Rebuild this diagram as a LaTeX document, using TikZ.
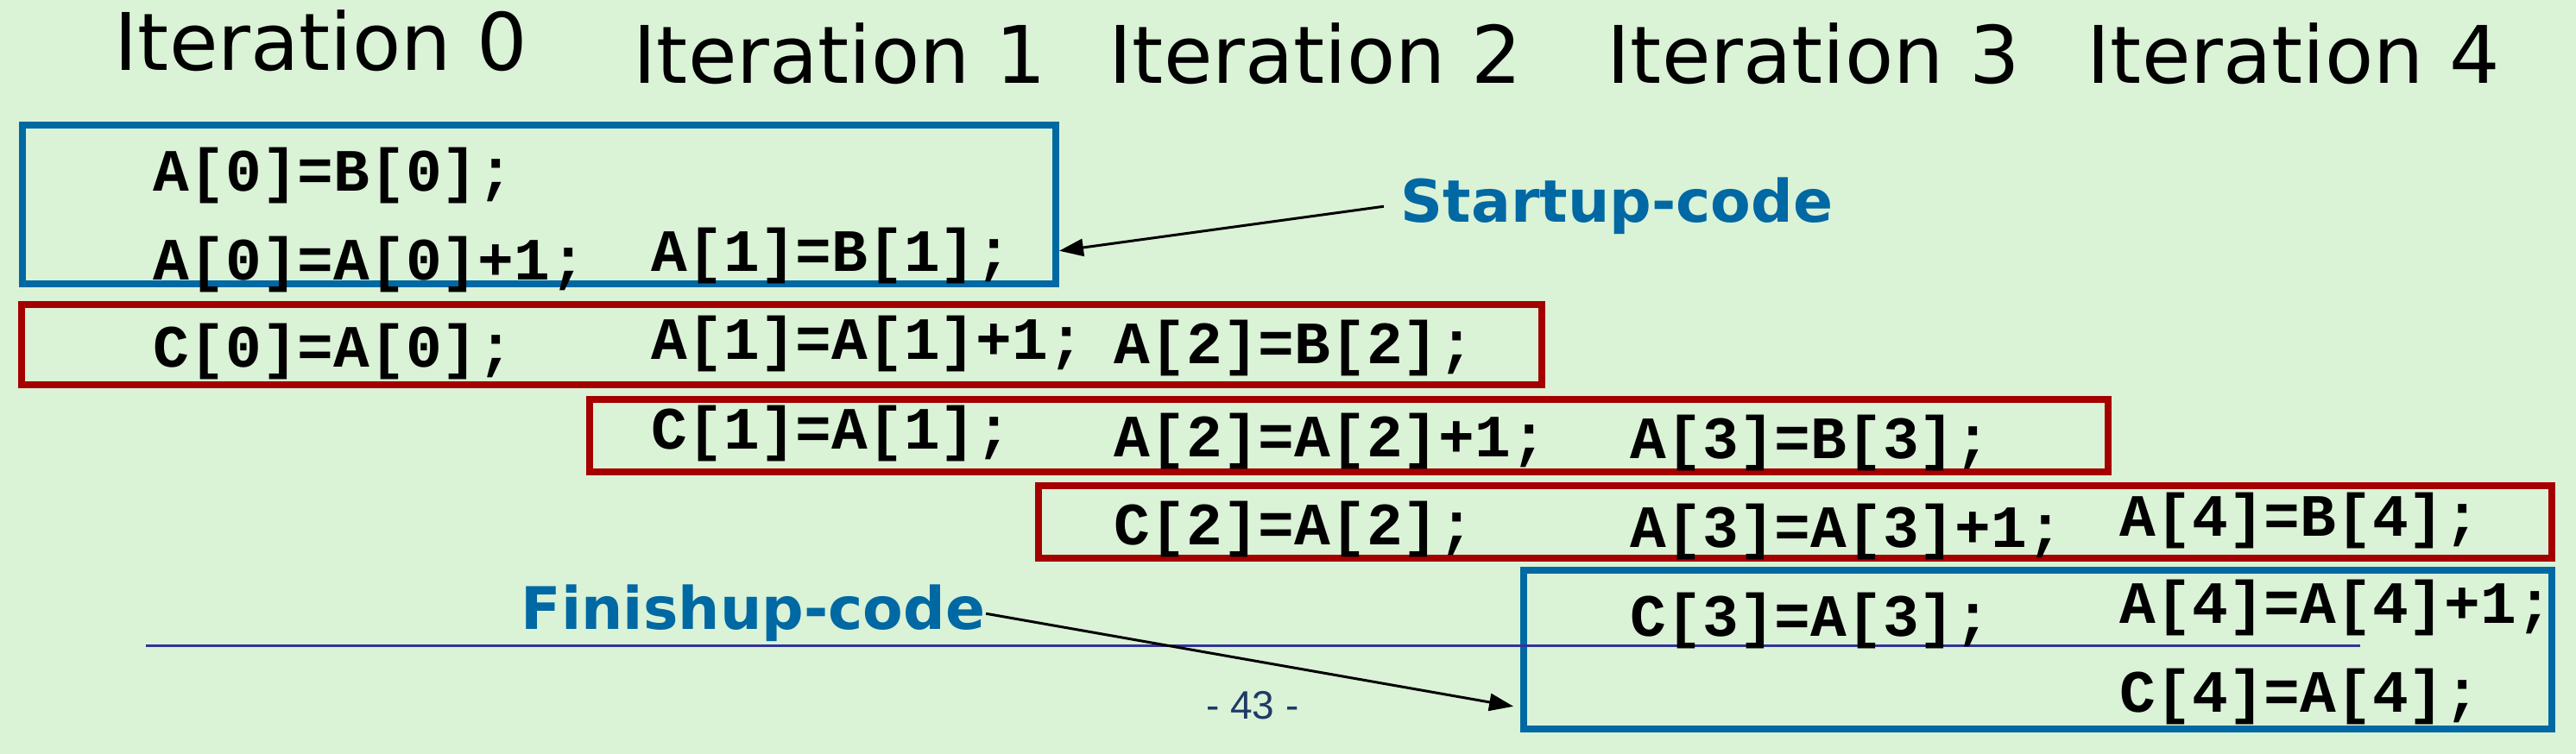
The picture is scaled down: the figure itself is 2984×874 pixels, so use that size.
\documentclass[tikz,border=0pt]{standalone}
\usepackage{fontspec}
\usetikzlibrary{arrows.meta,calc}
\setmainfont{DejaVu Sans}
\newfontfamily\titlefont{DejaVu Sans}
\newfontfamily\codefont{Liberation Mono}
\newfontfamily\lblfont{DejaVu Sans}
\newfontfamily\pgfont{Liberation Sans}
\definecolor{bggreen}{RGB}{218,242,214}
\definecolor{boxblue}{RGB}{0,104,163}
\definecolor{boxred}{RGB}{165,0,0}
\definecolor{footline}{RGB}{51,51,153}
\definecolor{pgnavy}{RGB}{31,58,102}
\tikzset{
  itertitle/.style={anchor=base west, inner sep=0pt, font=\titlefont\fontsize{23}{23}\selectfont, text=black},
  codeline/.style={anchor=base west, inner sep=0pt, font=\codefont\bfseries\fontsize{17.4}{17.4}\selectfont, text=black},
  bluebox/.style={draw=boxblue, line width=2pt, inner sep=0pt},
  redbox/.style={draw=boxred, line width=2pt, inner sep=0pt},
  calllabel/.style={anchor=base west, inner sep=0pt, font=\lblfont\bfseries\fontsize{17}{17}\selectfont, text=boxblue},
  pointer/.style={draw=black, line width=0.75pt, -{Triangle[length=7pt,width=5pt]}},
}
\begin{document}
\begin{tikzpicture}[x=0.25pt,y=-0.25pt]
\fill[bggreen] (0,0) rectangle (2984,874);
\useasboundingbox (0,0) rectangle (2984,874);

% boxes
\node[bluebox, minimum width=1197*0.25pt, minimum height=184*0.25pt] (blue1) at (624.5,237) {};
\node[redbox, minimum width=1761*0.25pt, minimum height=93*0.25pt] (red1) at (905.5,399.5) {};
\node[redbox, minimum width=1759*0.25pt, minimum height=84*0.25pt] (red2) at (1562.5,505) {};
\node[redbox, minimum width=1753*0.25pt, minimum height=84*0.25pt] (red3) at (2079.5,605) {};
\node[bluebox, minimum width=1191*0.25pt, minimum height=184*0.25pt] (blue2) at (2360.5,753) {};

% footer line
\coordinate (fl0) at (169,749);
\coordinate (fl1) at (2734,749);
\draw[footline, line width=0.75pt] (fl0) -- (fl1);

% titles
\node[itertitle] (t0) at (132,82) {Iteration 0};
\node[itertitle] (t1) at (733,97) {Iteration 1};
\node[itertitle] (t2) at (1284,97) {Iteration 2};
\node[itertitle] (t3) at (1861,97) {Iteration 3};
\node[itertitle] (t4) at (2417,97) {Iteration 4};

% code
\node[codeline] (c00) at (177,222) {A[0]=B[0];};
\node[codeline] (c01) at (177,325) {A[0]=A[0]+1;};
\node[codeline] (c02) at (177,426) {C[0]=A[0];};
\node[codeline] (c10) at (754,315) {A[1]=B[1];};
\node[codeline] (c11) at (754,417) {A[1]=A[1]+1;};
\node[codeline] (c12) at (754,521) {C[1]=A[1];};
\node[codeline] (c20) at (1290,422) {A[2]=B[2];};
\node[codeline] (c21) at (1290,530) {A[2]=A[2]+1;};
\node[codeline] (c22) at (1290,632) {C[2]=A[2];};
\node[codeline] (c30) at (1888,532) {A[3]=B[3];};
\node[codeline] (c31) at (1888,635) {A[3]=A[3]+1;};
\node[codeline] (c32) at (1888,738) {C[3]=A[3];};
\node[codeline] (c40) at (2455,622) {A[4]=B[4];};
\node[codeline] (c41) at (2455,723) {A[4]=A[4]+1;};
\node[codeline] (c42) at (2455,826) {C[4]=A[4];};

% labels
\node[calllabel, inner xsep=4.75pt] (startup) at (1603,258) {Startup-code};
\node[calllabel] (finish) at (603,730) {Finishup-code};

\draw[pointer] (startup.west) -- ($(blue1.south east)!0.22!(blue1.north east)$);
\draw[pointer, shorten >=2pt] (finish.east) -- ($(blue2.south west)!0.15!(blue2.north west)$);

% page number
\node[inner sep=0pt, text=pgnavy, font=\pgfont\fontsize{11.5}{11.5}\selectfont] (pg) at (1451,818) {- 43 -};
\end{tikzpicture}
\end{document}
